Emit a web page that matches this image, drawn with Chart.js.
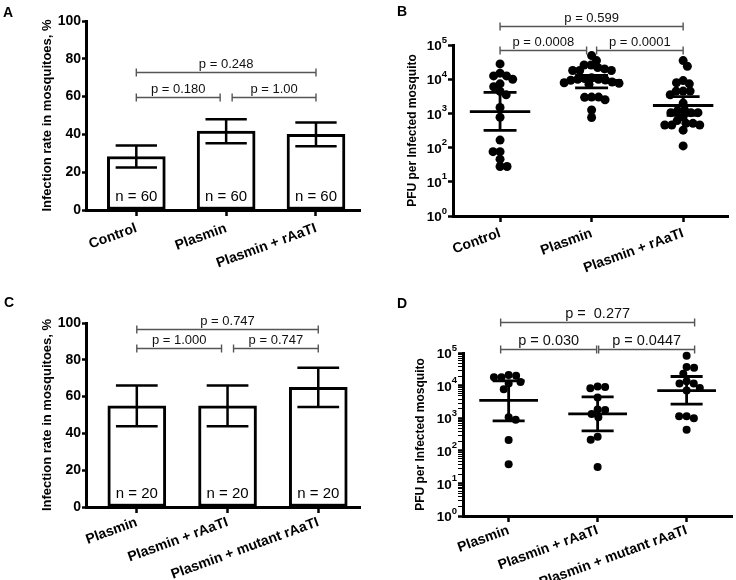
<!DOCTYPE html>
<html><head><meta charset="utf-8">
<script src="https://cdn.jsdelivr.net/npm/chart.js@4.4.1/dist/chart.umd.min.js"></script>
<style>
html,body{margin:0;padding:0;background:#fff;width:736px;height:580px;overflow:hidden;}
.panel{position:absolute;width:368px;height:290px;}
.letter{position:absolute;font:bold 14px "Liberation Sans",Arial,sans-serif;line-height:14px;color:#000;}
</style></head><body>
<div class="panel" style="left:0;top:0"><canvas id="cA" width="368" height="290"></canvas></div>
<div class="panel" style="left:368px;top:0"><canvas id="cB" width="368" height="290"></canvas></div>
<div class="panel" style="left:0;top:290px"><canvas id="cC" width="368" height="290"></canvas></div>
<div class="panel" style="left:368px;top:290px"><canvas id="cD" width="368" height="290"></canvas></div>
<div class="letter" style="left:3px;top:5px">A</div>
<div class="letter" style="left:397px;top:4px">B</div>
<div class="letter" style="left:4px;top:295px">C</div>
<div class="letter" style="left:397px;top:296px">D</div>
<script>
// ---------- DATA ----------
// Panel A
const catsA = ['Control', 'Plasmin', 'Plasmin + rAaTI'];
const rateA = [28.3, 41.7, 40.0];
const rateLowA = [22.5, 35.3, 33.7];
const rateHighA = [34.1, 48.0, 46.3];
const nA = ['n = 60', 'n = 60', 'n = 60'];
const pPairsA = [[0, 1], [1, 2], [0, 2]];
const pLevelsA = [60, 60, 73];
const pTextsA = ['p = 0.180', 'p = 1.00', 'p = 0.248'];

// Panel B (PFU per infected mosquito)
const catsB = ['Control', 'Plasmin', 'Plasmin + rAaTI'];
const pfuControlB = [28000, 15000, 12500, 12500, 10000, 6000, 7300, 4400, 3500, 1500, 770, 166, 76, 76, 46, 28, 28];
const pfuPlasminB = [49000, 35000, 26000, 26000, 22000, 20000, 18000, 18000, 18000, 10500, 10000, 9500, 9300, 11000, 10000, 8300, 7900, 7600, 7100, 3000, 3000, 2500, 2950, 1260, 760];
const pfuRaatiB = [35000, 24000, 7900, 9100, 7300, 4500, 4500, 4500, 3500, 2000, 1200, 1050, 790, 1050, 1050, 1260, 513, 457, 457, 324, 457, 513, 617, 112];
const meanB = [1120, 9300, 1700];
const sdLowB = [320, 5600, 870];
const sdHighB = [4100, 13000, 3100];
const pPairsB = [[0, 1], [1, 2], [0, 2]];
const pLevelsB = [71000, 71000, 360000];
const pTextsB = ['p = 0.0008', 'p = 0.0001', 'p = 0.599'];

// Panel C
const catsC = ['Plasmin', 'Plasmin + rAaTI', 'Plasmin + mutant rAaTI'];
const rateC = [55, 55, 65];
const rateLowC = [43.9, 43.9, 54.3];
const rateHighC = [66.1, 66.1, 75.7];
const nC = ['n = 20', 'n = 20', 'n = 20'];
const pPairsC = [[0, 1], [1, 2], [0, 2]];
const pLevelsC = [86.4, 86.4, 96.8];
const pTextsC = ['p = 1.000', 'p = 0.747', 'p = 0.747'];

// Panel D
const catsD = ['Plasmin', 'Plasmin + rAaTI', 'Plasmin + mutant rAaTI'];
const pfuPlasminD = [20000, 18000, 18000, 21000, 11500, 13000, 7700, 890, 1070, 215, 39];
const pfuRaatiD = [9000, 8300, 9400, 4300, 1800, 1850, 1070, 1350, 270, 220, 32];
const pfuMutantD = [83000, 35000, 37000, 23000, 13500, 11500, 8400, 11500, 7100, 1150, 1000, 1150, 440];
const meanD = [3500, 1350, 7000];
const sdLowD = [830, 410, 2700];
const sdHighD = [14000, 4500, 19000];
const pPairsD = [[0, 1], [1, 2], [0, 2]];
const pLevelsD = [136000, 136000, 870000];
const pTextsD = ['p = 0.030', 'p = 0.0447', 'p =  0.277'];

// log axis ticks: value, base text and exponent text
const logTickValues = [1, 10, 100, 1000, 10000, 100000];
const logTickBase = '10';
const logTickExponents = ['0', '1', '2', '3', '4', '5'];

// ---------- HELPERS ----------
const FONT = '"Liberation Sans", Arial, Helvetica, sans-serif';
Chart.defaults.font.family = FONT;
Chart.defaults.color = '#000';

function annotPlugin(cfg) {
  return {
    id: 'annot',
    afterDraw(chart) {
      if (!cfg.logLabels) return;
      const ctx = chart.ctx, ys = chart.scales.y;
      ctx.save();
      ctx.fillStyle = '#000';
      // minor ticks between decades (positions from the log scale)
      if (cfg.logLabels.minor) {
        ctx.strokeStyle = '#000'; ctx.lineWidth = 1.2;
        ctx.beginPath();
        logTickValues.slice(0, -1).forEach(v => {
          for (let k = 2; k <= 9; k++) {
            const y = Math.round(ys.getPixelForValue(k * v)) + 0.5;
            ctx.moveTo(ys.right - cfg.logLabels.minorLen, y); ctx.lineTo(ys.right + 1, y);
          }
        });
        ctx.stroke();
      }
      // power-of-ten tick labels with raised exponents
      const xr = ys.right - cfg.logLabels.tick - 1;
      logTickValues.forEach((v, i) => {
        const y = ys.getPixelForValue(v);
        ctx.font = 'bold 9.5px ' + FONT;
        const we = ctx.measureText(logTickExponents[i]).width;
        ctx.textAlign = 'left'; ctx.textBaseline = 'middle';
        ctx.fillText(logTickExponents[i], xr - we, y - 5);
        ctx.font = 'bold 13.5px ' + FONT;
        ctx.textAlign = 'right';
        ctx.fillText(logTickBase, xr - we, y + 1.5);
      });
      ctx.restore();
    },
    afterDatasetsDraw(chart) {
      const ctx = chart.ctx, xs = chart.scales.x, ys = chart.scales.y;
      const unit = xs.getPixelForValue(1) - xs.getPixelForValue(0);
      ctx.save();
      ctx.strokeStyle = '#000';
      ctx.lineCap = 'butt';
      if (cfg.err) {
        ctx.lineWidth = cfg.err.width;
        cfg.err.lo.forEach((lo, i) => {
          const cx = xs.getPixelForValue(i), hw = cfg.err.cap * unit;
          const yl = ys.getPixelForValue(lo), yh = ys.getPixelForValue(cfg.err.hi[i]);
          ctx.beginPath();
          ctx.moveTo(cx, yl); ctx.lineTo(cx, yh);
          ctx.moveTo(cx - hw, yl); ctx.lineTo(cx + hw, yl);
          ctx.moveTo(cx - hw, yh); ctx.lineTo(cx + hw, yh);
          ctx.stroke();
        });
      }
      if (cfg.mean) {
        ctx.lineWidth = cfg.mean.width;
        cfg.mean.mean.forEach((m, i) => {
          const cx = xs.getPixelForValue(i), hm = cfg.mean.half * unit, hc = cfg.mean.cap * unit;
          const ym = ys.getPixelForValue(m), yl = ys.getPixelForValue(cfg.mean.lo[i]), yh = ys.getPixelForValue(cfg.mean.hi[i]);
          ctx.beginPath();
          ctx.moveTo(cx - hm, ym); ctx.lineTo(cx + hm, ym);
          ctx.moveTo(cx, yl); ctx.lineTo(cx, yh);
          ctx.moveTo(cx - hc, yl); ctx.lineTo(cx + hc, yl);
          ctx.moveTo(cx - hc, yh); ctx.lineTo(cx + hc, yh);
          ctx.stroke();
        });
      }
      if (cfg.n) {
        ctx.fillStyle = '#000';
        ctx.font = cfg.n.size + 'px ' + FONT;
        ctx.textAlign = 'center'; ctx.textBaseline = 'middle';
        cfg.n.labels.forEach((t, i) => ctx.fillText(t, xs.getPixelForValue(i), ys.getPixelForValue(cfg.n.at)));
      }
      if (cfg.p) {
        const last = xs.ticks.length - 1;
        ctx.strokeStyle = '#555';
        ctx.lineWidth = 1.4;
        ctx.font = cfg.p.size + 'px ' + FONT;
        ctx.fillStyle = '#111';
        ctx.textAlign = 'center'; ctx.textBaseline = 'alphabetic';
        cfg.p.pairs.forEach(([a, b], k) => {
          let x1 = xs.getPixelForValue(a), x2 = xs.getPixelForValue(b);
          if (a > 0 && a < last) x1 += cfg.p.gap; else x1 -= cfg.p.outer;
          if (b > 0 && b < last) x2 -= cfg.p.gap; else x2 += cfg.p.outer;
          const y = Math.round(ys.getPixelForValue(cfg.p.levels[k])) + 0.5;
          ctx.beginPath();
          ctx.moveTo(x1, y); ctx.lineTo(x2, y);
          ctx.moveTo(x1, y - 4); ctx.lineTo(x1, y + 4);
          ctx.moveTo(x2, y - 4); ctx.lineTo(x2, y + 4);
          ctx.stroke();
          ctx.fillText(cfg.p.texts[k], (x1 + x2) / 2, y - 5);
        });
      }
      ctx.restore();
    }
  };
}

function xAxis(cats, min, max, h, pad) {
  return {
    type: 'linear', min: min, max: max, offset: false,
    afterBuildTicks: s => { s.ticks = cats.map((_, i) => ({ value: i })); },
    afterFit: s => { s.height = h; },
    ticks: { autoSkip: false, minRotation: 20, maxRotation: 20, color: '#000', padding: pad,
      font: { family: FONT, size: 14, weight: 'bold' }, callback: v => cats[v] },
    grid: { display: true, offset: false, drawOnChartArea: false, drawTicks: true, tickLength: 6, tickWidth: 2.5, tickColor: '#000' },
    border: { display: true, color: '#000', width: 3 }
  };
}

function barPanel(id, cats, vals, lo, hi, nl, pairs, levels, texts, L) {
  return new Chart(document.getElementById(id), {
    type: 'bar',
    data: { datasets: [{ data: vals.map((v, i) => ({ x: i, y: v })), backgroundColor: '#fff', borderColor: '#000',
      borderWidth: 3, borderSkipped: false, barThickness: 58 }] },
    options: {
      responsive: false, animation: false, events: [],
      layout: { padding: { left: L.padL, right: L.padR, top: L.top, bottom: 0 } },
      plugins: { legend: { display: false }, tooltip: { enabled: false } },
      scales: {
        x: xAxis(cats, L.xmin, L.xmax, L.xh, L.lpad),
        y: {
          min: 0, max: 100,
          afterFit: s => { s.width = L.yw; },
          ticks: { stepSize: 20, color: '#000', padding: 1, font: { family: FONT, size: 14, weight: 'bold' } },
          grid: { display: true, drawOnChartArea: false, tickLength: 4, tickWidth: 2.5, tickColor: '#000' },
          border: { display: true, color: '#000', width: 3 },
          title: { display: true, text: 'Infection rate in mosquitoes, %', color: '#000', padding: { top: 4, bottom: 0 },
            font: { family: FONT, size: 13, weight: 'bold' } }
        }
      }
    },
    plugins: [annotPlugin({
      err: { lo: lo, hi: hi, cap: 0.23, width: 2.5 },
      n: { labels: nl, at: 7, size: 15 },
      p: { pairs: pairs, levels: levels, texts: texts, gap: 6, outer: 0, size: 13 }
    })]
  });
}

function scatterPanel(id, cats, groups, mean, lo, hi, pairs, levels, texts, L) {
  const chart = new Chart(document.getElementById(id), {
    type: 'scatter',
    data: { datasets: groups.map((g, gi) => ({ data: g.map(v => ({ x: gi, y: v })), pointRadius: L.r, pointHoverRadius: L.r,
      pointBackgroundColor: '#000', pointBorderWidth: 0, showLine: false, clip: false })) },
    options: {
      responsive: false, animation: false, events: [],
      layout: { padding: { left: L.padL, right: L.padR, top: L.top, bottom: 0 } },
      plugins: { legend: { display: false }, tooltip: { enabled: false } },
      scales: {
        x: xAxis(cats, L.xmin, L.xmax, L.xh, L.lpad),
        y: {
          type: 'logarithmic', min: 1, max: 100000,
          afterBuildTicks: s => { s.ticks = logTickValues.map(v => ({ value: v, major: true })); },
          afterFit: s => { s.width = L.yw; },
          ticks: { autoSkip: false, color: '#000', padding: 2, font: { family: FONT, size: 14, weight: 'bold' },
            callback: () => '' },
          grid: { display: true, drawOnChartArea: false, tickLength: L.tick, tickColor: '#000', tickWidth: 2.5 },
          border: { display: true, color: '#000', width: 3 },
          title: { display: true, text: 'PFU per Infected mosquito', color: '#000', padding: { top: 4, bottom: 0 },
            font: { family: FONT, size: 12, weight: 'bold' } }
        }
      }
    },
    plugins: [annotPlugin({
      logLabels: { tick: L.tick, minor: L.minor, minorLen: 5 },
      mean: { mean: mean, lo: lo, hi: hi, half: 0.33, cap: 0.18, width: 2.8 },
      p: { pairs: pairs, levels: levels, texts: texts, gap: L.gap, outer: L.outer, size: L.psize }
    })]
  });
  // deterministic beeswarm placement of the dots (derived from the values)
  const xs = chart.scales.x, ys = chart.scales.y;
  const unit = xs.getPixelForValue(1) - xs.getPixelForValue(0);
  chart.data.datasets.forEach((ds, gi) => {
    const vals = groups[gi];
    const d = L.sep;
    const order = vals.map((_, i) => i).sort((a, b) => vals[b] - vals[a]);
    const placed = [], off = new Array(vals.length).fill(0);
    let lean = 1;
    order.forEach(i => {
      const py = ys.getPixelForValue(vals[i]);
      const cands = [0];
      placed.forEach(p => {
        const dy = Math.abs(p.y - py);
        if (dy < d) { const w = Math.sqrt(d * d - dy * dy); cands.push(p.x + w, p.x - w); }
      });
      const ok = cands.filter(c => placed.every(p => (p.x - c) ** 2 + (p.y - py) ** 2 >= d * d - 0.05));
      ok.sort((a, b) => (Math.round(Math.abs(a) * 10) - Math.round(Math.abs(b) * 10)) || (lean * (b - a)));
      const x = ok[0];
      if (Math.abs(x) > 0.1) lean = -Math.sign(x);
      placed.push({ x: x, y: py });
      off[i] = x;
    });
    ds.data = vals.map((v, i) => ({ x: gi + off[i] / unit, y: v }));
  });
  chart.update('none');
  return chart;
}

// ---------- CHARTS ----------
barPanel('cA', catsA, rateA, rateLowA, rateHighA, nA, pPairsA, pLevelsA, pTextsA,
  { padL: 36, padR: 8, top: 21, yw: 50, xh: 80, xmin: -0.56, xmax: 2.49, lpad: 4 });
scatterPanel('cB', catsB, [pfuControlB, pfuPlasminB, pfuRaatiB], meanB, sdLowB, sdHighB, pPairsB, pLevelsB, pTextsB,
  { padL: 33, padR: 8, top: 45, yw: 52, xh: 74, xmin: -0.514, xmax: 2.49, lpad: 3, r: 4.5, sep: 7, tick: 5, minor: false, gap: 5, outer: 0, psize: 13 });
barPanel('cC', catsC, rateC, rateLowC, rateHighC, nC, pPairsC, pLevelsC, pTextsC,
  { padL: 36, padR: 8, top: 33, yw: 50, xh: 73, xmin: -0.56, xmax: 2.46, lpad: 1 });
scatterPanel('cD', catsD, [pfuPlasminD, pfuRaatiD, pfuMutantD], meanD, sdLowD, sdHighD, pPairsD, pLevelsD, pTextsD,
  { padL: 41, padR: 0, top: 63, yw: 54, xh: 64, xmin: -0.513, xmax: 2.51, lpad: 0, r: 4, sep: 7.5, tick: 5, minor: true, gap: 1, outer: 8, psize: 14.5 });
</script>
</body></html>
